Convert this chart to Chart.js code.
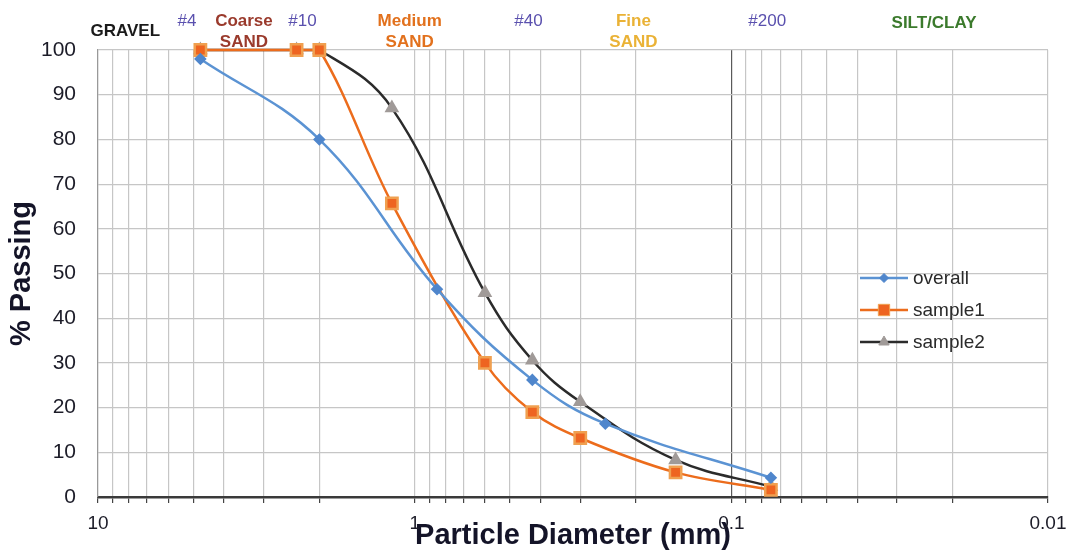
<!DOCTYPE html>
<html><head><meta charset="utf-8">
<script src="https://cdn.jsdelivr.net/npm/chart.js@4.4.1/dist/chart.umd.min.js"></script>
<style>html,body{margin:0;padding:0;background:#fff;}#wrap{width:1070px;height:553px;position:relative;}</style>
</head><body><div id="wrap"><canvas id="c" width="1070" height="553"></canvas></div>
<script>
// ---- data ----
const seriesNames = ['overall', 'sample1', 'sample2'];
const overallSizes = [4.75, 2.0, 0.85, 0.425, 0.25, 0.075];
const overallPassing = [98, 80, 46.5, 26.2, 16.4, 4.3];
const sampleSizes = [4.75, 2.36, 2.0, 1.18, 0.6, 0.425, 0.3, 0.15, 0.075];
const sample1Passing = [100, 100, 100, 65.7, 30, 19, 13.2, 5.5, 1.6];
const sample2Passing = [100, 100, 100, 87, 45.7, 30.6, 21.3, 8.3, 2.3];
const xGridValues = [10, 9, 8, 7, 6, 5, 4, 3, 2, 1, 0.9, 0.8, 0.7, 0.6, 0.5, 0.4, 0.3, 0.2,
  0.1, 0.09, 0.08, 0.07, 0.06, 0.05, 0.04, 0.03, 0.02, 0.01];
const xLabelValues = [10, 1, 0.1, 0.01];
const xLabelTexts = ['10', '1', '0.1', '0.01'];
const sieveLabels = ['#4', '#10', '#40', '#200'];
const sieveLabelAt = [5.24, 2.26, 0.437, 0.077];
const zoneLabels = [['GRAVEL'], ['Coarse', 'SAND'], ['Medium', 'SAND'], ['Fine', 'SAND'], ['SILT/CLAY']];
const zoneLabelAt = [8.2, 3.46, 1.037, 0.2038, 0.0229];
const zoneColors = ['#1a1a1a', '#9a3a2c', '#e2711d', '#eab236', '#3b7a2c'];

const FONT = "'Liberation Sans', Arial, sans-serif";
function pts(xs, ys) { return xs.map((x, i) => ({ x: x, y: ys[i] })); }

function drawMarker(ctx, style, x, y, r, fill, stroke) {
  ctx.save();
  ctx.fillStyle = fill; ctx.strokeStyle = stroke; ctx.lineWidth = 1;
  ctx.beginPath();
  if (style === 'rect') { const s = r * Math.SQRT1_2; ctx.rect(x - s, y - s, 2 * s, 2 * s); }
  else if (style === 'rectRot') { ctx.moveTo(x, y - r); ctx.lineTo(x + r, y); ctx.lineTo(x, y + r); ctx.lineTo(x - r, y); ctx.closePath(); }
  else if (style === 'triangle') { ctx.moveTo(x, y - r); ctx.lineTo(x + r * 0.866, y + r * 0.5); ctx.lineTo(x - r * 0.866, y + r * 0.5); ctx.closePath(); }
  else { ctx.arc(x, y, r, 0, Math.PI * 2); }
  ctx.fill(); ctx.stroke();
  ctx.restore();
}

const overlayPlugin = {
  id: 'overlay',
  afterDraw(chart) {
    const ctx = chart.ctx, xs = chart.scales.x, ca = chart.chartArea;
    ctx.save();
    ctx.textAlign = 'center'; ctx.textBaseline = 'middle';
    // sieve labels
    ctx.font = '17px ' + FONT; ctx.fillStyle = '#5a50ae';
    sieveLabels.forEach((t, i) => ctx.fillText(t, xs.getPixelForValue(sieveLabelAt[i]), ca.top - 29));
    // zone labels
    ctx.font = 'bold 17px ' + FONT;
    zoneLabels.forEach((lines, i) => {
      ctx.fillStyle = zoneColors[i];
      const px = xs.getPixelForValue(zoneLabelAt[i]);
      if (lines.length === 1) {
        ctx.fillText(lines[0], px, i === 0 ? ca.top - 19 : ca.top - 27);
      } else {
        ctx.fillText(lines[0], px, ca.top - 29);
        ctx.fillText(lines[1], px, ca.top - 8);
      }
    });
    // legend
    const lx = ca.right - 188, ly = ca.top + 228, gap = 32;
    ctx.font = '19px ' + FONT; ctx.textAlign = 'left';
    chart.data.datasets.forEach((ds, i) => {
      const y = ly + i * gap;
      ctx.strokeStyle = ds.borderColor; ctx.lineWidth = ds.borderWidth;
      ctx.beginPath(); ctx.moveTo(lx, y); ctx.lineTo(lx + 48, y); ctx.stroke();
      drawMarker(ctx, ds.pointStyle, lx + 24, y, ds.pointRadius, ds.pointBackgroundColor, ds.pointBorderColor);
      ctx.fillStyle = '#2a2a2a';
      ctx.fillText(ds.label, lx + 53, y + 1);
    });
    ctx.restore();
  }
};

new Chart(document.getElementById('c'), {
  type: 'line',
  data: {
    datasets: [
      { label: seriesNames[0], data: pts(overallSizes, overallPassing), borderColor: '#5b93d3', borderWidth: 2.5,
        pointStyle: 'rectRot', pointRadius: 4.5, pointBackgroundColor: '#4f86cc', pointBorderColor: '#4f86cc', tension: 0.4, clip: false },
      { label: seriesNames[1], data: pts(sampleSizes, sample1Passing), borderColor: '#ec6c1c', borderWidth: 2.5,
        pointStyle: 'rect', pointRadius: 8, pointBackgroundColor: '#ee6420', pointBorderColor: '#f0a050', tension: 0.35, clip: false },
      { label: seriesNames[2], data: pts(sampleSizes, sample2Passing), borderColor: '#2b2b2b', borderWidth: 2.5,
        pointStyle: 'triangle', pointRadius: 6, pointBackgroundColor: '#a09a98', pointBorderColor: '#a09a98', tension: 0.4, clip: false }
    ]
  },
  options: {
    responsive: false, animation: false,
    layout: { padding: { top: 50, right: 22, left: 0, bottom: 0 } },
    plugins: { legend: { display: false }, tooltip: { enabled: false } },
    scales: {
      x: {
        type: 'logarithmic', reverse: true, min: 0.01, max: 10,
        afterBuildTicks: (s) => { s.ticks = xGridValues.map(v => ({ value: v })); },
        afterFit: (s) => { s.height = 56; s.paddingLeft = 0; s.paddingRight = 0; },
        ticks: {
          autoSkip: false, maxRotation: 0, padding: 9, color: '#1c1c28', font: { size: 19, family: FONT },
          callback: (v) => { const k = xLabelValues.findIndex(a => Math.abs(a - v) < 1e-9); return k >= 0 ? xLabelTexts[k] : ''; }
        },
        grid: {
          color: (c) => (c.tick && Math.abs(c.tick.value - 0.1) < 1e-9) ? '#5a5a5a' : '#c6c6c6',
          lineWidth: 1.2, drawTicks: true, tickLength: 6, tickColor: '#444'
        },
        border: { display: true, color: '#3a3a3a', width: 2.5 },
        title: { display: true, text: 'Particle Diameter (mm)', color: '#141428',
          font: { size: 29, weight: 'bold', family: FONT }, padding: { top: 0, bottom: 0 } }
      },
      y: {
        min: 0, max: 100,
        afterFit: (s) => { s.width = 98; s.paddingTop = 0; s.paddingBottom = 0; },
        ticks: { stepSize: 10, padding: 22, color: '#1c1c28', font: { size: 21, family: FONT } },
        grid: { color: '#c6c6c6', lineWidth: 1.2, drawTicks: false },
        border: { display: true, color: '#999', width: 1.2 },
        title: { display: true, text: '% Passing', color: '#141428',
          font: { size: 29, weight: 'bold', family: FONT }, padding: { top: 5, bottom: 0 } }
      }
    }
  },
  plugins: [overlayPlugin]
});
</script></body></html>
